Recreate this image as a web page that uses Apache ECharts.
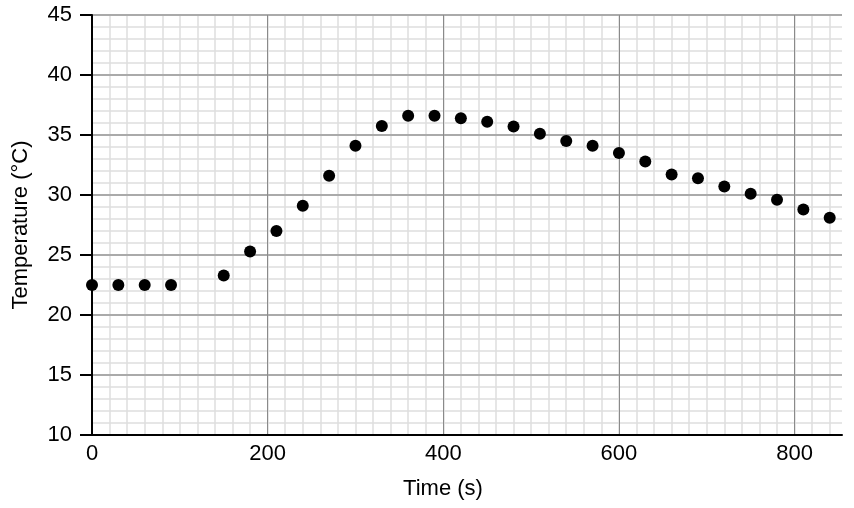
<!DOCTYPE html>
<html>
<head>
<meta charset="utf-8">
<script src="https://cdn.jsdelivr.net/npm/echarts@6/dist/echarts.min.js"></script>
<style>html,body{margin:0;padding:0;background:#fff}#c{width:854px;height:508px}</style>
</head>
<body>
<div id="c"></div>
<script>
const timeSeconds = [0, 30, 60, 90, 150, 180, 210, 240, 270, 300, 330, 360, 390, 420, 450, 480, 510, 540, 570, 600, 630, 660, 690, 720, 750, 780, 810, 840];
const temperatureC = [22.5, 22.5, 22.5, 22.5, 23.3, 25.3, 27.0, 29.1, 31.6, 34.1, 35.75, 36.6, 36.6, 36.4, 36.1, 35.7, 35.1, 34.5, 34.1, 33.5, 32.8, 31.7, 31.4, 30.7, 30.1, 29.6, 28.8, 28.1];
const xLabels = ['0', '200', '400', '600', '800'];
const yLabels = ['10', '15', '20', '25', '30', '35', '40', '45'];

const points = timeSeconds.map((t, i) => [t, temperatureC[i]]);
const font = 'Liberation Sans, Arial, sans-serif';
const chart = echarts.init(document.getElementById('c'), null, {renderer: 'canvas'});
chart.setOption({
  animation: false,
  backgroundColor: '#fff',
  grid: {left: 92, right: 12, top: 15, bottom: 73, containLabel: false, outerBoundsMode: 'none'},
  xAxis: [
    {
      type: 'value', position: 'bottom', min: 0, max: 854, interval: 20, z: 0,
      axisLine: {show: false}, axisTick: {show: false}, axisLabel: {show: false},
      splitLine: {show: true, showMaxLine: false, lineStyle: {color: '#dedede', width: 1.5}}
    },
    {
      type: 'value', position: 'bottom', min: 0, max: 854, interval: 200, z: 2,
      name: 'Time (s)', nameLocation: 'middle', nameGap: 43,
      nameTextStyle: {fontFamily: font, fontSize: 22, color: '#000', padding: [0, 48, 0, 0]},
      axisLine: {show: true, onZero: false, lineStyle: {color: '#000', width: 2}},
      axisTick: {show: false},
      axisLabel: {
        fontFamily: font, fontSize: 22, color: '#000', margin: 8, showMaxLabel: false,
        formatter: v => xLabels.includes(String(v)) ? String(v) : ''
      },
      splitLine: {show: true, showMinLine: false, showMaxLine: false, lineStyle: {color: '#8a8a8a', width: 1}}
    }
  ],
  yAxis: [
    {
      type: 'value', position: 'left', min: 10, max: 45, interval: 1, z: 0,
      axisLine: {show: false}, axisTick: {show: false}, axisLabel: {show: false},
      splitLine: {show: true, lineStyle: {color: '#dedede', width: 1.5}}
    },
    {
      type: 'value', position: 'left', min: 10, max: 45, interval: 5, z: 1,
      name: 'Temperature (°C)', nameLocation: 'middle', nameGap: 60,
      nameTextStyle: {fontFamily: font, fontSize: 22, color: '#000'},
      axisLine: {show: true, onZero: false, lineStyle: {color: '#000', width: 2}},
      axisTick: {show: true, length: 12, lineStyle: {color: '#000', width: 2}},
      axisLabel: {
        fontFamily: font, fontSize: 22, color: '#000', margin: 20,
        formatter: v => yLabels.includes(String(v)) ? String(v) : ''
      },
      splitLine: {show: true, showMinLine: false, lineStyle: {color: '#aaaaaa', width: 2}}
    }
  ],
  series: [{
    type: 'scatter', xAxisIndex: 1, yAxisIndex: 1, z: 5,
    symbol: 'circle', symbolSize: 12,
    itemStyle: {color: '#000', opacity: 1},
    data: points
  }]
});
</script>
</body>
</html>
